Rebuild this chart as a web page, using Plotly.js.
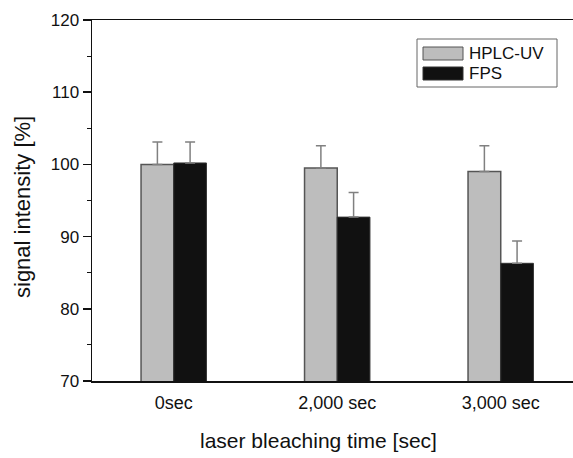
<!DOCTYPE html>
<html>
<head>
<meta charset="utf-8">
<script src="https://cdn.plot.ly/plotly-3.0.1.min.js"></script>
<style>html,body{margin:0;padding:0;background:#fff;}#chart{width:573px;height:458px;}</style>
</head>
<body>
<div id="chart"></div>
<script>
const categories = ["0sec", "2,000 sec", "3,000 sec"];
const seriesNames = ["HPLC-UV", "FPS"];
const hplcValues = [100.0, 99.5, 99.0];
const hplcErrors = [3.1, 3.1, 3.6];
const fpsValues = [100.2, 92.7, 86.3];
const fpsErrors = [2.9, 3.4, 3.1];
const yTicks = [70, 80, 90, 100, 110, 120];

const font = "Liberation Sans, Arial, Helvetica, sans-serif";
const fillColors = ["#bdbdbd", "#111111"];
const lineColors = ["#555555", "#333333"];

const M = {l: 92, r: 0, t: 20, b: 77};
const W = 573, H = 458;
const pw = W - M.l - M.r, ph = H - M.t - M.b;
const px = v => (v - M.l) / pw;
const py = v => (H - M.b - v) / ph;

const traces = [
  {
    type: "bar", name: seriesNames[0], x: categories, y: hplcValues,
    marker: {color: fillColors[0], line: {color: lineColors[0], width: 1.5}},
    error_y: {type: "data", array: hplcErrors, arrayminus: [0,0,0], symmetric: false,
              color: "#808080", thickness: 1.5, width: 5}
  },
  {
    type: "bar", name: seriesNames[1], x: categories, y: fpsValues,
    marker: {color: fillColors[1], line: {color: lineColors[1], width: 1}},
    error_y: {type: "data", array: fpsErrors, arrayminus: [0,0,0], symmetric: false,
              color: "#808080", thickness: 1.5, width: 5}
  }
];

// legend drawn as decoration (box, wide swatches, labels)
const shapes = [
  {type: "rect", xref: "paper", yref: "paper", x0: px(417), x1: px(557), y0: py(39), y1: py(87),
   line: {color: "#666666", width: 1}, fillcolor: "#ffffff", layer: "above"}
];
const annotations = [];
const swY = [[47, 60], [67, 80]];
const txtY = [53.5, 73.5];
seriesNames.forEach((n, i) => {
  shapes.push({type: "rect", xref: "paper", yref: "paper", x0: px(423), x1: px(463),
    y0: py(swY[i][0]), y1: py(swY[i][1]), line: {color: lineColors[i], width: 1},
    fillcolor: fillColors[i], layer: "above"});
  annotations.push({xref: "paper", yref: "paper", x: px(467), y: py(txtY[i]),
    xanchor: "left", yanchor: "middle", showarrow: false, text: n,
    font: {family: font, size: 17, color: "#111111"}});
});
annotations.push({xref: "paper", yref: "paper", x: px(318), y: py(440),
  xanchor: "center", yanchor: "middle", showarrow: false,
  text: "laser bleaching time [sec]", font: {family: font, size: 21, color: "#111111"}});
annotations.push({xref: "paper", yref: "paper", x: px(23), y: py(207),
  xanchor: "center", yanchor: "middle", showarrow: false, textangle: -90,
  text: "signal intensity [%]", font: {family: font, size: 22, color: "#111111"}});

const layout = {
  width: W, height: H,
  margin: M,
  paper_bgcolor: "#ffffff", plot_bgcolor: "#ffffff",
  barmode: "group", bargap: 0.6, bargroupgap: 0,
  font: {family: font, color: "#111111", size: 17},
  showlegend: false,
  shapes: shapes,
  annotations: annotations,
  xaxis: {
    type: "category", range: [-0.5, 2.442],
    showline: true, linecolor: "#111111", linewidth: 1.5, mirror: true,
    ticks: "outside", ticklen: 5, tickcolor: "rgba(0,0,0,0)",
    showgrid: false, zeroline: false,
    tickfont: {family: font, size: 18, color: "#111111"}
  },
  yaxis: {
    range: [70, 120], tickvals: yTicks,
    showline: true, linecolor: "#111111", linewidth: 1.5, mirror: false,
    ticks: "outside", ticklen: 8, tickwidth: 1.5, tickcolor: "#111111",
    minor: {dtick: 5, ticks: "outside", ticklen: 4, tickwidth: 1.2, tickcolor: "#111111", showgrid: false},
    showgrid: false, zeroline: false,
    tickfont: {family: font, size: 17, color: "#111111"}
  }
};

Plotly.newPlot("chart", traces, layout, {displayModeBar: false, staticPlot: true});
</script>
</body>
</html>
